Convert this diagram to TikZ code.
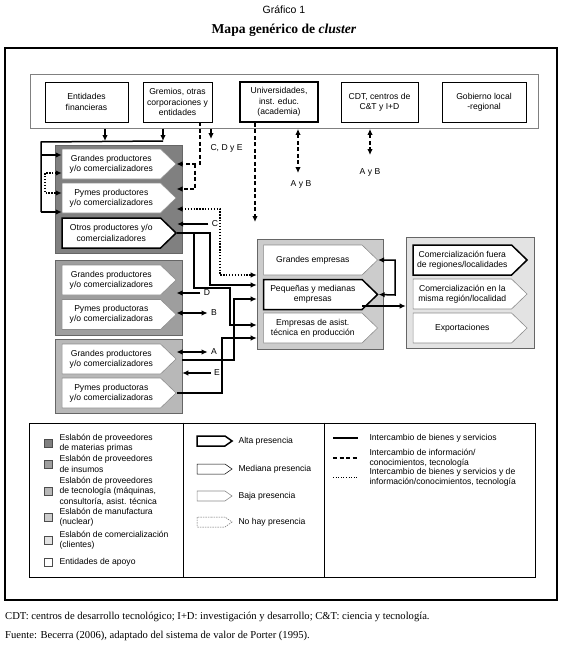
\documentclass[tikz,border=0pt]{standalone}
\usepackage{fontspec}
\setmainfont{Liberation Serif}
\setsansfont{Liberation Sans}
\usetikzlibrary{arrows.meta,shapes.symbols}

\definecolor{materia}{gray}{0.50}
\definecolor{insumo}{gray}{0.62}
\definecolor{tecno}{gray}{0.72}
\definecolor{manuf}{gray}{0.80}
\definecolor{comer}{gray}{0.89}

\newcommand{\diagfont}{\sffamily\fontsize{8.6}{10.4}\selectfont}

\tikzset{
  caja/.style={draw,line width=0.6pt,fill=white,minimum height=40pt,align=center,inner sep=1pt},
  bloque/.style={draw=black!60,line width=0.6pt},
  penta/.style={signal,signal to=east,signal pointer angle=88,fill=white,inner sep=1pt,
    align=center,minimum width=114pt,minimum height=30pt},
  pentachica/.style={signal,signal to=east,signal pointer angle=70,fill=white,inner sep=0pt,
    minimum width=35pt,minimum height=10pt},
  alta/.style={draw=black,line width=1.5pt},
  mediana/.style={draw=black,line width=0.5pt},
  baja/.style={draw=black!45,line width=0.6pt},
  nohay/.style={draw=black!60,line width=0.5pt,dash pattern=on 1.5pt off 1pt},
  muestra/.style={draw=black!70,line width=0.4pt,minimum size=8pt,inner sep=0pt},
  bien/.style={line width=1.5pt},
  info/.style={line width=1.5pt,dash pattern=on 4pt off 2.5pt},
  mixto/.style={line width=1.3pt,dash pattern=on 1.3pt off 1.6pt},
  flecha/.style={-{Latex[length=6pt,width=5.5pt]}},
  dflecha/.style={{Latex[length=6pt,width=5.5pt]}-{Latex[length=6pt,width=5.5pt]}}
}

\begin{document}
\begin{tikzpicture}[x=1pt,y=-1pt,every node/.style={font=\diagfont}]
    \useasboundingbox (0,0) rectangle (568,650);
    % Titulo
    \node[font=\sffamily\fontsize{10.5}{12}\selectfont] (tit1) at (284,10) {Gráfico 1};
    \node[font=\rmfamily\bfseries\fontsize{13.6}{15}\selectfont] (tit2) at (284,30) {Mapa genérico de \textit{cluster}};
    \draw[line width=1.6pt] (5,48) rectangle (557,600);
    % Entidades de apoyo
    \node[draw=black!50,line width=0.8pt,minimum width=508pt,minimum height=54pt] (barra) at (284,101.5) {};
    \node[caja,minimum width=83pt] (fin) at (86.5,102) {Entidades\\financieras};
    \node[caja,minimum width=69pt] (grem) at (177.5,102) {Gremios, otras\\corporaciones y\\entidades};
    \node[caja,minimum width=78pt,line width=1.6pt] (univ) at (279,102) {Universidades,\\inst. educ.\\(academia)};
    \node[caja,minimum width=77pt] (cdt) at (379.5,102) {CDT, centros de\\C\&T y I+D};
    \node[caja,minimum width=84pt] (gob) at (484,102) {Gobierno local\\-regional};
    % Eslabones
    \node[bloque,fill=materia,minimum width=127pt,minimum height=108pt] (g1) at (118.5,199) {};
    \node[penta,baja] (g1a) at (111.3,164) {Grandes productores\\y/o comercializadores};
    \node[penta,baja] (g1b) at (111.3,198) {Pymes productores\\y/o comercializadores};
    \node[penta,alta] (g1c) at (111.3,233) {Otros productores y/o\\comercializadores};
    \node[bloque,fill=insumo,minimum width=127pt,minimum height=75pt] (g2) at (118.5,297.5) {};
    \node[penta,baja] (g2a) at (111.3,280) {Grandes productores\\y/o comercializadores};
    \node[penta,baja] (g2b) at (111.3,314.5) {Pymes productoras\\y/o comercializadoras};
    \node[bloque,fill=tecno,minimum width=127pt,minimum height=74pt] (g3) at (118.5,376) {};
    \node[penta,baja] (g3a) at (111.3,359) {Grandes productores\\y/o comercializadores};
    \node[penta,baja] (g3b) at (111.3,393) {Pymes productoras\\y/o comercializadoras};
    \node[bloque,fill=manuf,minimum width=126pt,minimum height=110pt] (manu) at (320,294) {};
    \node[penta,baja] (pe1) at (312.8,260) {Grandes empresas};
    \node[penta,alta] (pe2) at (312.8,294.5) {Pequeñas y medianas\\empresas};
    \node[penta,baja] (pe3) at (312.8,328) {Empresas de asist.\\técnica en producción};
    \node[bloque,fill=comer,minimum width=128pt,minimum height=111pt] (come) at (470,293) {};
    \node[penta,alta] (co1) at (462.3,260) {Comercialización fuera\\de regiones/localidades};
    \node[penta,baja] (co2) at (462.3,294) {Comercialización en la\\misma región/localidad};
    \node[penta,baja] (co3) at (462.3,328) {Exportaciones};
    % Flechas apoyo
    \coordinate (f1) at (105,141);
    \coordinate (f2) at (163,141);
    \coordinate (esq) at (41,142);
    \coordinate (ba) at (41,155);
    \coordinate (bb) at (41,212);
    \draw[bien,flecha] (f1 |- barra.south) -- (f1);
    \draw[bien,flecha] (f2 |- barra.south) -- (f2);
    \draw[bien] (f2) -- (esq) -- (bb);
    \draw[bien,flecha] (ba) -- (ba -| g1a.west);
    \draw[bien,flecha] (bb) -- (bb -| g1b.west);
    \coordinate (pa) at (45,173);
    \coordinate (pb) at (45,193);
    \draw[mixto,dflecha] (pa -| g1a.west) -- (pa) -- (pb) -- (pb -| g1b.west);
    \coordinate (ga) at (200,164);
    \coordinate (gb) at (195,164);
    \coordinate (gc) at (195,189);
    \draw[info,flecha] (ga |- grem.south) -- (ga) -- (g1a.east);
    \draw[info,flecha] (gb) -- (gc) -- (gc -| g1b.east);
    \coordinate (cde) at (211,139);
    \draw[bien,flecha] (cde |- barra.south) -- (cde);
    \node[anchor=west] (lcde) at (207,148) {C, D y E};
    \coordinate (un) at (255,222);
    \draw[info,flecha] (un |- univ.south) -- (un);
    \coordinate (ab1) at (298,173);
    \coordinate (ab2) at (370,155);
    \draw[info,dflecha] (ab1 |- barra.south) -- (ab1);
    \node (lab1) at (301,184) {A y B};
    \draw[info,dflecha] (ab2 |- barra.south) -- (ab2);
    \node (lab2) at (370,172) {A y B};
    % Flechas eslabones
    \coordinate (m1) at (220,209);
    \coordinate (m2) at (220,275);
    \draw[mixto,dflecha] (m1 -| g1b.east) -- (m1) -- (m2) -- (m2 -| manu.west);
    \node (lc) at (215,224) {C};
    \draw[bien,flecha] (lc.west) -- (lc.west -| g1c.east);
    \coordinate (l1a) at (210,233);
    \coordinate (l1b) at (210,285);
    \draw[bien,flecha] (g1c.east) -- (l1a) -- (l1b) -- (l1b -| manu.west);
    \coordinate (l2a) at (194,233);
    \coordinate (l2b) at (194,288);
    \coordinate (l2c) at (230,288);
    \coordinate (l2d) at (230,325);
    \draw[bien,flecha] (l2a) -- (l2b) -- (l2c) -- (l2d) -- (l2d -| manu.west);
    \node (ld) at (207,293) {D};
    \draw[bien,flecha] (ld.west) -- (ld.west -| g2a.east);
    \node (lb) at (214,313) {B};
    \draw[bien,dflecha] (lb.west) -- (lb.west -| g2b.east);
    \node (la) at (214,352) {A};
    \draw[bien,dflecha] (la.west) -- (la.west -| g3a.east);
    \node (le) at (217,373) {E};
    \draw[bien,flecha] (le.west) -- (le.west -| g3.east);
    \coordinate (l3a) at (234,360);
    \coordinate (l3b) at (234,299);
    \draw[bien,flecha] (l3a -| g3.east) -- (l3a) -- (l3b) -- (l3b -| manu.west);
    \coordinate (l4a) at (222,393);
    \coordinate (l4b) at (222,338);
    \draw[bien,flecha] (g3b.east) -- (l4a) -- (l4b) -- (l4b -| manu.west);
    \coordinate (r1) at (395,260);
    \coordinate (r2) at (395,295);
    \draw[bien,dflecha] (pe1.east) -- (r1) -- (r2) -- (pe2.east);
    \coordinate (r3) at (362,306);
    \draw[bien,flecha] (r3) -- (r3 -| come.west);
    % Leyenda
    \node[draw,line width=0.8pt,minimum width=506pt,minimum height=154pt] (leyenda) at (282,500) {};
    \coordinate (d1) at (183,0);
    \coordinate (d2) at (324,0);
    \draw[line width=0.8pt] (leyenda.north -| d1) -- (leyenda.south -| d1);
    \draw[line width=0.8pt] (leyenda.north -| d2) -- (leyenda.south -| d2);
    \node[muestra,fill=materia] (s1) at (48,443) {};
    \node[anchor=west,align=left] (t1) at (56,443) {Eslabón de proveedores\\de materias primas};
    \node[muestra,fill=insumo] (s2) at (48,464) {};
    \node[anchor=west,align=left] (t2) at (56,464) {Eslabón de proveedores\\de insumos};
    \node[muestra,fill=tecno] (s3) at (48,491) {};
    \node[anchor=west,align=left] (t3) at (56,491) {Eslabón de proveedores\\de tecnología (máquinas,\\consultoría, asist. técnica};
    \node[muestra,fill=manuf] (s4) at (48,517) {};
    \node[anchor=west,align=left] (t4) at (56,517) {Eslabón de manufactura\\(nuclear)};
    \node[muestra,fill=comer] (s5) at (48,540) {};
    \node[anchor=west,align=left] (t5) at (56,540) {Eslabón de comercialización\\(clientes)};
    \node[muestra,fill=white] (s6) at (48,562) {};
    \node[anchor=west] (t6) at (56,562) {Entidades de apoyo};
    \node[pentachica,alta] (p1) at (211,441) {};
    \node[anchor=west] (tp1) at (235,441) {Alta presencia};
    \node[pentachica,mediana] (p2) at (211,469) {};
    \node[anchor=west] (tp2) at (235,469) {Mediana presencia};
    \node[pentachica,baja] (p3) at (211,496) {};
    \node[anchor=west] (tp3) at (235,496) {Baja presencia};
    \node[pentachica,nohay] (p4) at (211,522) {};
    \node[anchor=west] (tp4) at (235,522) {No hay presencia};
    \coordinate (ls1) at (333,438);
    \coordinate (le1) at (358,438);
    \coordinate (ls2) at (333,458);
    \coordinate (le2) at (358,458);
    \coordinate (ls3) at (333,477);
    \coordinate (le3) at (358,477);
    \draw[bien] (ls1) -- (le1);
    \draw[info] (ls2) -- (le2);
    \draw[line width=0.9pt,dash pattern=on 1pt off 1.6pt] (ls3) -- (le3);
    \node[anchor=west] (tl1) at (366,438) {Intercambio de bienes y servicios};
    \node[anchor=west,align=left] (tl2) at (366,458) {Intercambio de información/\\conocimientos, tecnología};
    \node[anchor=west,align=left] (tl3) at (366,477) {Intercambio de bienes y servicios y de\\información/conocimientos, tecnología};
    % Notas
    \node[anchor=west,font=\rmfamily\fontsize{10.6}{12}\selectfont,inner sep=0pt] (nota) at (5,617) {CDT: centros de desarrollo tecnológico; I+D: investigación y desarrollo; C\&T: ciencia y tecnología.};
    \node[anchor=west,font=\rmfamily\fontsize{10.6}{12}\selectfont,inner sep=0pt] (fuente) at (5,636) {Fuente: Becerra (2006), adaptado del sistema de valor de Porter (1995).};
\end{tikzpicture}
\end{document}
